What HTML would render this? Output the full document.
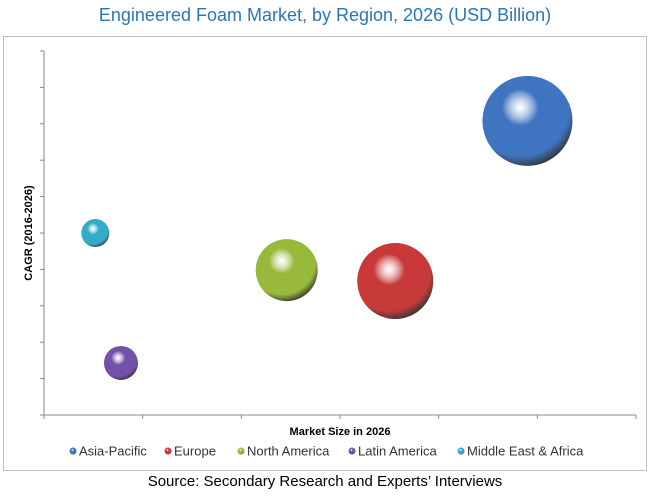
<!DOCTYPE html>
<html><head><meta charset="utf-8"><style>
body{margin:0;background:#fff;width:650px;height:498px;overflow:hidden;font-family:"Liberation Sans",sans-serif}
</style></head><body>
<svg width="650" height="498">
<defs id="defs"></defs>
<rect x="3.5" y="36.5" width="643" height="434" fill="none" stroke="#bfbfbf"/>
<text x="325" y="21" text-anchor="middle" font-size="18" fill="#2e75b6">Engineered Foam Market, by Region, 2026 (USD Billion)</text>
<g id="axes"></g>
<g id="bubbles"></g>
<text transform="translate(32,233) rotate(-90)" text-anchor="middle" font-size="11" font-weight="bold" fill="#000">CAGR (2016-2026)</text>
<text x="340" y="435" text-anchor="middle" font-size="11" font-weight="bold" fill="#000">Market Size in 2026</text>
<g id="legend"></g>
<text x="325" y="486" text-anchor="middle" font-size="15" fill="#000">Source: Secondary Research and Experts’ Interviews</text>
</svg>
<script>
const regions=["Asia-Pacific","Europe","North America","Latin America","Middle East & Africa"];
const marketSize=[4.9,3.56,2.46,0.78,0.52];
const cagr=[8.08,3.68,3.98,1.43,5.0];
const bubbleSize=[45,38,31,17,14];
const colors=["#3f74c0","#c83a3a","#98b93c","#7451a8","#34acc9"];
const xTicks=[0,1,2,3,4,5,6];
const yTicks=[0,1,2,3,4,5,6,7,8,9,10];
const NS="http://www.w3.org/2000/svg";
const X0=44,X1=636,Y0=415,Y1=51;
const xs=v=>X0+(v/6)*(X1-X0);
const ys=v=>Y0-(v/10)*(Y0-Y1);
function mk(t,a,p){const e=document.createElementNS(NS,t);for(const k in a)e.setAttribute(k,a[k]);p.appendChild(e);return e;}
const axes=document.getElementById('axes');
const ya=mk('line',{x1:X0,y1:Y1,x2:X0,y2:Y0,stroke:'#888'},axes);


const xa=mk('line',{x1:X0,y1:Y0,x2:X1,y2:Y0,stroke:'#888'},axes);


yTicks.forEach(t=>{const l=mk('line',{x1:X0-4,x2:X0,y1:ys(t),y2:ys(t),stroke:'#888'},axes);

});
xTicks.forEach(t=>{const l=mk('line',{x1:xs(t),x2:xs(t),y1:Y0,y2:Y0+4,stroke:'#888'},axes);

});
const defs=document.getElementById('defs'),bg=document.getElementById('bubbles'),lg=document.getElementById('legend');
regions.forEach((r,i)=>{
 const g=mk('radialGradient',{id:'g'+i,cx:'0.42',cy:'0.35',r:'0.68'},defs);
 mk('stop',{offset:'0',"stop-color":'#fff',"stop-opacity":'0.55'},g);
 mk('stop',{offset:'0.3',"stop-color":colors[i]},g);
 mk('stop',{offset:'0.8',"stop-color":colors[i]},g);
 mk('stop',{offset:'1',"stop-color":'#333'},g);
 const c=mk('circle',{cx:xs(marketSize[i]),cy:ys(cagr[i]),r:bubbleSize[i],fill:'url(#g'+i+')'},bg);
 
 
});
const lx=[73,168,241,352,461];
regions.forEach((r,i)=>{
 const g=mk('g',{},lg);
 
 
 mk('circle',{cx:lx[i],cy:451,r:3.5,fill:'url(#g'+i+')'},g);
 const t=mk('text',{x:lx[i]+6,y:455.5,"font-size":13,fill:'#333'},g);t.textContent=r;
});
</script>
</body></html>
